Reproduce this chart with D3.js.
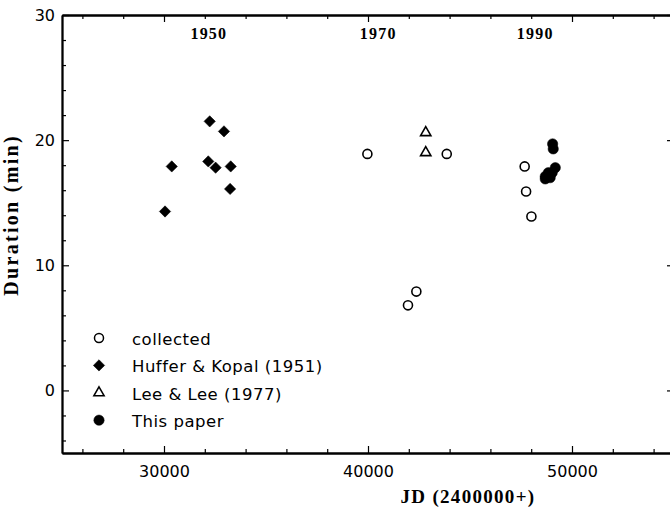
<!DOCTYPE html>
<html>
<head>
<meta charset="utf-8">
<script src="https://cdn.jsdelivr.net/npm/d3@7"></script>
<style>
  body { margin: 0; background: #fff; }
  svg { display: block; }
  .tick text { font-family: "DejaVu Sans", sans-serif; font-size: 16px; fill: #000; }
</style>
</head>
<body>
<div id="chart"></div>
<script>
// collected (open circles)
var collectedJD  = [39970, 41960, 42370, 43860, 47680, 47750, 48010];
var collectedDur = [18.9, 6.8, 7.9, 18.9, 17.9, 15.9, 13.9];

// Huffer & Kopal (1951) (filled diamonds)
var hufferJD  = [30050, 30380, 32170, 32530, 32240, 32940, 33270, 33240];
var hufferDur = [14.3, 17.9, 18.3, 17.8, 21.5, 20.7, 17.9, 16.1];

// Lee & Lee (1977) (open triangles)
var leeJD  = [42830, 42830];
var leeDur = [20.6, 19.0];

// This paper (filled circles)
var paperJD  = [49050, 49080, 48690, 48840, 48930, 49030, 49180, 48690];
var paperDur = [19.7, 19.3, 17.1, 17.4, 17.0, 17.4, 17.8, 16.9];

var legendLabels = ["collected", "Huffer & Kopal (1951)", "Lee & Lee (1977)", "This paper"];

var xMajor = [30000, 40000, 50000];
var xMinor = [26000, 28000, 32000, 34000, 36000, 38000, 42000, 44000, 46000, 48000, 52000, 54000];
var yMajor = [0, 10, 20, 30];
var yMinor = [-4, -2, 2, 4, 6, 8, 12, 14, 16, 18, 22, 24, 26, 28];

var yearLabels = ["1950", "1970", "1990"];
var yearJD = [32200, 40500, 48200];

var width = 670,
    height = 509,
    plotLeft = 62,
    plotRight = 674,
    plotTop = 15,
    plotBottom = 453;

var svg = d3.select("#chart").append("svg")
    .attr("width", width)
    .attr("height", height);

var x = d3.scaleLinear().domain([25000, 55000]).range([plotLeft, plotRight]);
var y = d3.scaleLinear().domain([-5, 30]).range([plotBottom, plotTop]);

// axes: ticks point inward
svg.append("g")
    .attr("transform", "translate(0," + plotBottom + ")")
    .call(d3.axisBottom(x).tickValues(xMajor).tickSize(-7).tickSizeOuter(0)
        .tickPadding(12.5).tickFormat(d3.format("d")));
svg.append("g")
    .attr("transform", "translate(0," + plotBottom + ")")
    .call(d3.axisBottom(x).tickValues(xMinor).tickSize(-4).tickSizeOuter(0).tickFormat(""));
svg.append("g")
    .attr("transform", "translate(0," + plotTop + ")")
    .call(d3.axisTop(x).tickValues(xMajor).tickSize(-7).tickSizeOuter(0).tickFormat(""));
svg.append("g")
    .attr("transform", "translate(0," + plotTop + ")")
    .call(d3.axisTop(x).tickValues(xMinor).tickSize(-4).tickSizeOuter(0).tickFormat(""));
svg.append("g")
    .attr("transform", "translate(" + plotLeft + ",0)")
    .call(d3.axisLeft(y).tickValues(yMajor).tickSize(-7).tickSizeOuter(0).tickPadding(7));
svg.append("g")
    .attr("transform", "translate(" + plotLeft + ",0)")
    .call(d3.axisLeft(y).tickValues(yMinor).tickSize(-4).tickSizeOuter(0).tickFormat(""));
svg.append("g")
    .attr("transform", "translate(" + plotRight + ",0)")
    .call(d3.axisRight(y).tickValues(yMajor).tickSize(-7).tickSizeOuter(0).tickFormat(""));

svg.selectAll(".domain").attr("stroke", "#000").attr("stroke-width", 1.8);
svg.selectAll(".tick line").attr("stroke", "#000").attr("stroke-width", 1.2);

// year labels along the top
svg.append("g").selectAll("text")
    .data(yearLabels)
    .enter().append("text")
    .attr("x", function(d, i) { return x(yearJD[i]); })
    .attr("y", 39)
    .attr("text-anchor", "middle")
    .style("font-family", "'Liberation Serif', 'Times New Roman', serif")
    .style("font-weight", "bold")
    .style("font-size", "16px")
    .style("letter-spacing", "1.2px")
    .text(function(d) { return d; });

// axis titles
svg.append("text")
    .attr("x", 468)
    .attr("y", 503)
    .attr("text-anchor", "middle")
    .style("font-family", "'Liberation Serif', 'Times New Roman', serif")
    .style("font-weight", "bold")
    .style("font-size", "19px")
    .style("letter-spacing", "1.3px")
    .text("JD (2400000+)");

svg.append("text")
    .attr("transform", "translate(18,134) rotate(-90)")
    .attr("text-anchor", "end")
    .style("font-family", "'Liberation Serif', 'Times New Roman', serif")
    .style("font-weight", "bold")
    .style("font-size", "20px")
    .style("letter-spacing", "2.3px")
    .text("Duration (min)");

function pts(xs, ys) {
    return xs.map(function(v, i) { return { jd: v, dur: ys[i] }; });
}

var circleOpen = d3.symbol().type(d3.symbolCircle).size(64);
var circleFill = d3.symbol().type(d3.symbolCircle).size(84);
var square = d3.symbol().type(d3.symbolSquare).size(64);
var triangle = d3.symbol().type(d3.symbolTriangle).size(46);

var series = [
    { data: pts(collectedJD, collectedDur), path: circleOpen, fill: "none", rot: 0 },
    { data: pts(hufferJD, hufferDur), path: square, fill: "#000", rot: 45 },
    { data: pts(leeJD, leeDur), path: triangle, fill: "none", rot: 0 },
    { data: pts(paperJD, paperDur), path: circleFill, fill: "#000", rot: 0 }
];

series.forEach(function(s) {
    svg.append("g").selectAll("path")
        .data(s.data)
        .enter().append("path")
        .attr("d", s.path())
        .attr("transform", function(d) {
            return "translate(" + x(d.jd) + "," + y(d.dur) + ") rotate(" + s.rot + ")";
        })
        .attr("fill", s.fill)
        .attr("stroke", "#000")
        .attr("stroke-width", s.fill === "none" ? 1.6 : 0.5);
});

// legend
var legend = svg.append("g").selectAll("g")
    .data(legendLabels)
    .enter().append("g")
    .attr("transform", function(d, i) { return "translate(99," + (338 + i * 27.4) + ")"; });

legend.append("path")
    .attr("d", function(d, i) { return series[i].path(); })
    .attr("transform", function(d, i) { return "rotate(" + series[i].rot + ")"; })
    .attr("fill", function(d, i) { return series[i].fill; })
    .attr("stroke", "#000")
    .attr("stroke-width", function(d, i) { return series[i].fill === "none" ? 1.5 : 0.5; });

legend.append("text")
    .attr("x", 33)
    .attr("y", 7)
    .style("font-family", "'DejaVu Sans', sans-serif")
    .style("font-size", "16.5px")
    .style("letter-spacing", "0.5px")
    .text(function(d) { return d; });
</script>
</body>
</html>
